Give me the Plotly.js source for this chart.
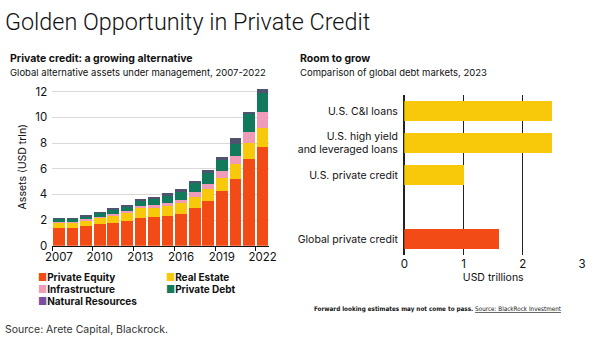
<!DOCTYPE html>
<html>
<head>
<meta charset="utf-8">
<script src="https://cdn.plot.ly/plotly-3.0.1.min.js"></script>
<style>html,body{margin:0;padding:0;background:#fff;}#chart{width:600px;height:343px;}</style>
</head>
<body>
<div id="chart"></div>
<script>
// ---- Left chart data: global alternative AUM (USD trln) ----
const years = ["2007","2008","2009","2010","2011","2012","2013","2014","2015","2016","2017","2018","2019","2020","2021","2022"];
const privateEquity    = [1.40,1.40,1.56,1.69,1.74,1.90,2.13,2.21,2.34,2.47,2.96,3.48,4.26,5.19,6.73,7.71];
const realEstate       = [0.34,0.34,0.39,0.44,0.57,0.62,0.78,0.75,0.75,0.83,0.81,0.91,0.99,1.15,1.24,1.48];
const infrastructure   = [0.10,0.10,0.10,0.13,0.13,0.18,0.18,0.21,0.21,0.26,0.39,0.42,0.59,0.65,0.91,1.20];
const privateDebt      = [0.21,0.21,0.21,0.26,0.34,0.34,0.42,0.44,0.57,0.65,0.75,0.88,0.84,0.91,1.35,1.48];
const naturalResources = [0.11,0.13,0.10,0.13,0.16,0.13,0.13,0.16,0.21,0.18,0.15,0.21,0.26,0.46,0.21,0.31];

// ---- Right chart data: global debt markets 2023 (USD trillions) ----
const marketCategories = ["U.S. C&I loans", "U.S. high yield<br>and leveraged loans", "U.S. private credit", " ", "Global private credit"];
const usMarkets      = ["U.S. C&I loans", "U.S. high yield<br>and leveraged loans", "U.S. private credit"];
const usMarketValues = [2.5, 2.5, 1.0];
const globalMarket      = ["Global private credit"];
const globalMarketValue = [1.6];

const C = {pe:"#f24b16", re:"#f8c80a", inf:"#f09bb8", pd:"#127a5c", nr:"#4e5470"};
const FONT = "Inter, Roboto, 'Noto Sans', sans-serif";

function stack(name, vals, color){
  return {type:"bar", name:name, x:years, y:vals, xaxis:"x", yaxis:"y",
          marker:{color:color, line:{width:0}}, showlegend:false, hoverinfo:"x+y+name"};
}

const data = [
  stack("Private Equity", privateEquity, C.pe),
  stack("Real Estate", realEstate, C.re),
  stack("Infrastructure", infrastructure, C.inf),
  stack("Private Debt", privateDebt, C.pd),
  stack("Natural Resources", naturalResources, C.nr),
  {type:"bar", orientation:"h", x:usMarketValues, y:usMarkets, xaxis:"x2", yaxis:"y2", width:0.64,
   marker:{color:"#f8c80a"}, showlegend:false},
  {type:"bar", orientation:"h", x:globalMarketValue, y:globalMarket, xaxis:"x2", yaxis:"y2", width:0.64,
   marker:{color:"#f24b16"}, showlegend:false}
];

const py = p => 1 - p/343;
const px = p => p/600;

function legendItem(x, y, color, label){
  return {xref:"paper", yref:"paper", x:px(x), y:py(y), xanchor:"left", yanchor:"middle", showarrow:false,
          text:'<span style="color:'+color+'">■</span><b>'+label+'</b>',
          font:{family:FONT, size:10, color:"#111"}};
}

const layout = {
  width:600, height:343,
  margin:{l:0, r:0, t:0, b:0},
  paper_bgcolor:"#fff", plot_bgcolor:"#fff",
  font:{family:FONT, color:"#111"},
  barmode:"stack", bargap:0.14,
  title:{text:"Golden Opportunity in Private Credit", x:px(5), xanchor:"left", y:py(22), yanchor:"middle",
         font:{family:"Roboto, Inter, sans-serif", size:23.4, weight:300, color:"#111"}},
  xaxis:{domain:[px(52.2), px(269.3)], type:"category", tickson:"boundaries", dtick:3, tickangle:0,
         ticks:"outside", ticklen:4, tickcolor:"#111", showline:true, linecolor:"#111", linewidth:1.5,
         showgrid:false, tickfont:{size:11.5, color:"#111"}, fixedrange:true},
  yaxis:{domain:[py(245.7), py(87.8)], range:[0,12.3], dtick:2, showgrid:true, gridcolor:"#d9d9d9",
         zeroline:false, ticks:"", tickfont:{size:11.5, color:"#111"}, ticklabelstandoff:4,
         title:{text:"Assets (USD trln)", font:{size:10.5, color:"#111"}, standoff:6}},
  xaxis2:{domain:[px(404.3), px(582.2)], range:[0,3.003], tickvals:[0,1,2,3], anchor:"y2", showgrid:true, gridcolor:"#222",
          gridwidth:1.3, zeroline:true, zerolinecolor:"#222", zerolinewidth:1.3, tickfont:{size:11.5, color:"#111"}, ticks:"",
          title:{text:"USD trillions", font:{size:10.5, color:"#111"}, standoff:4}},
  yaxis2:{domain:[py(255), py(95)], anchor:"x2", type:"category", categoryorder:"array",
          categoryarray:marketCategories, range:[4.5,-0.5], showgrid:false, zeroline:false, ticks:"",
          showline:true, linecolor:"#222", linewidth:1.3,
          tickfont:{size:10.5, color:"#111"}, ticklabelstandoff:3},
  annotations:[
    {xref:"paper", yref:"paper", x:px(8), y:py(58.5), xanchor:"left", yanchor:"middle", showarrow:false,
     text:"<b>Private credit: a growing alternative</b>", font:{size:10.5, color:"#111"}},
    {xref:"paper", yref:"paper", x:px(8), y:py(73), xanchor:"left", yanchor:"middle", showarrow:false,
     text:"Global alternative assets under management, 2007-2022", font:{size:9.5, color:"#111"}},
    {xref:"paper", yref:"paper", x:px(298), y:py(58.5), xanchor:"left", yanchor:"middle", showarrow:false,
     text:"<b>Room to grow</b>", font:{size:10.5, color:"#111"}},
    {xref:"paper", yref:"paper", x:px(298), y:py(73), xanchor:"left", yanchor:"middle", showarrow:false,
     text:"Comparison of global debt markets, 2023", font:{size:9.5, color:"#111"}},
    legendItem(36, 277, C.pe, "Private Equity"),
    legendItem(36, 289, C.inf, "Infrastructure"),
    legendItem(36, 300.5, "#7a4fa0", "Natural Resources"),
    legendItem(164, 277, C.re, "Real Estate"),
    legendItem(164, 289, C.pd, "Private Debt"),
    {xref:"paper", yref:"paper", x:px(3), y:py(329), xanchor:"left", yanchor:"middle", showarrow:false,
     text:"Source: Arete Capital, Blackrock.", font:{size:10.5, color:"#333"}},
    {xref:"paper", yref:"paper", x:px(312), y:py(309), xanchor:"left", yanchor:"middle", showarrow:false,
     text:"<b>Forward looking estimates may not come to pass.</b> <u>Source: BlackRock Investment</u>",
     font:{family:"'Liberation Sans Narrow', 'DejaVu Sans Condensed', 'Liberation Sans', sans-serif", size:6.3, color:"#111"}}
  ]
};

Plotly.newPlot("chart", data, layout, {staticPlot:true, displayModeBar:false});
</script>
</body>
</html>
